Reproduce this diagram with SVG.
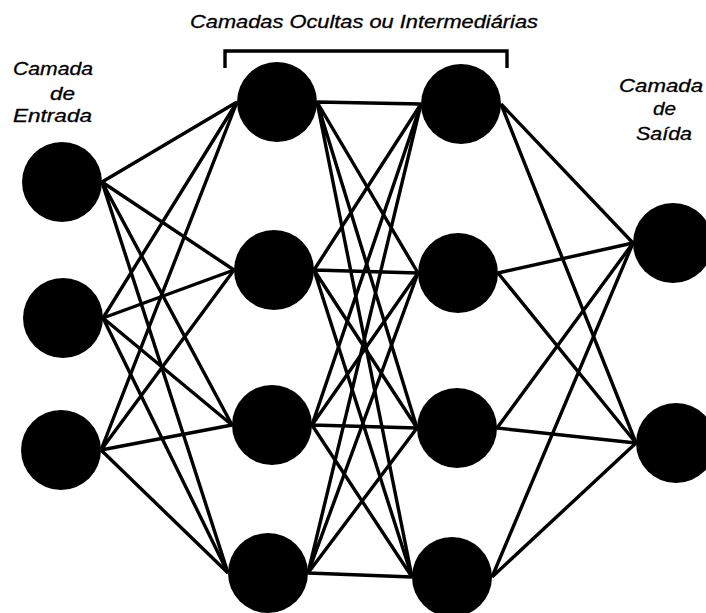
<svg xmlns="http://www.w3.org/2000/svg" width="706" height="613" viewBox="0 0 706 613">
<style>
.e{stroke:#000;stroke-width:3.4;fill:none}
.n{fill:#000}
.t{font-family:"Liberation Sans",Arial,sans-serif;font-style:italic;font-size:18px;fill:#000;stroke:#000;stroke-width:0.3}
</style>
<rect width="706" height="613" fill="#fff"/>
<g id="labels">
<text class="t" x="190" y="28" textLength="348" lengthAdjust="spacingAndGlyphs">Camadas Ocultas ou Intermediárias</text>
<text class="t" x="13" y="75" textLength="80" lengthAdjust="spacingAndGlyphs">Camada</text>
<text class="t" x="50" y="100" textLength="25" lengthAdjust="spacingAndGlyphs">de</text>
<text class="t" x="13" y="122" textLength="79" lengthAdjust="spacingAndGlyphs">Entrada</text>
<text class="t" x="619" y="92" textLength="84" lengthAdjust="spacingAndGlyphs">Camada</text>
<text class="t" x="653" y="115" textLength="23" lengthAdjust="spacingAndGlyphs">de</text>
<text class="t" x="636" y="140" textLength="56" lengthAdjust="spacingAndGlyphs">Saída</text>
</g>
<g id="bracket">
<path class="e" d="M225,68 V51 H507 V68"/>
</g>
<g id="connectors" class="e">
<path d="M102,182 L237,102 M102,182 L234,270 M102,182 L232,425 M102,182 L228,573"/>
<path d="M103,318 L237,102 M103,318 L234,270 M103,318 L232,425 M103,318 L228,573"/>
<path d="M101,450 L237,102 M101,450 L234,270 M101,450 L232,425 M101,450 L228,573"/>
<path d="M317,102 L421,104 M317,102 L418,273 M317,102 L417,428 M317,102 L412,577"/>
<path d="M314,270 L421,104 M314,270 L418,273 M314,270 L417,428 M314,270 L412,577"/>
<path d="M312,425 L421,104 M312,425 L418,273 M312,425 L417,428 M312,425 L412,577"/>
<path d="M308,573 L421,104 M308,573 L418,273 M308,573 L417,428 M308,573 L412,577"/>
<path d="M501,104 L633,243 M501,104 L636,443"/>
<path d="M498,273 L633,243 M498,273 L636,443"/>
<path d="M497,428 L633,243 M497,428 L636,443"/>
<path d="M492,577 L633,243 M492,577 L636,443"/>
</g>
<g id="in1"><circle class="n" cx="62" cy="182" r="40"/></g>
<g id="in2"><circle class="n" cx="63" cy="318" r="40"/></g>
<g id="in3"><circle class="n" cx="61" cy="450" r="40"/></g>
<g id="h1a"><circle class="n" cx="277" cy="102" r="40"/></g>
<g id="h1b"><circle class="n" cx="274" cy="270" r="40"/></g>
<g id="h1c"><circle class="n" cx="272" cy="425" r="40"/></g>
<g id="h1d"><circle class="n" cx="268" cy="573" r="40"/></g>
<g id="h2a"><circle class="n" cx="461" cy="104" r="40"/></g>
<g id="h2b"><circle class="n" cx="458" cy="273" r="40"/></g>
<g id="h2c"><circle class="n" cx="457" cy="428" r="40"/></g>
<g id="h2d"><circle class="n" cx="452" cy="577" r="40"/></g>
<g id="out1"><circle class="n" cx="673" cy="243" r="40"/></g>
<g id="out2"><circle class="n" cx="676" cy="443" r="40"/></g>
</svg>
